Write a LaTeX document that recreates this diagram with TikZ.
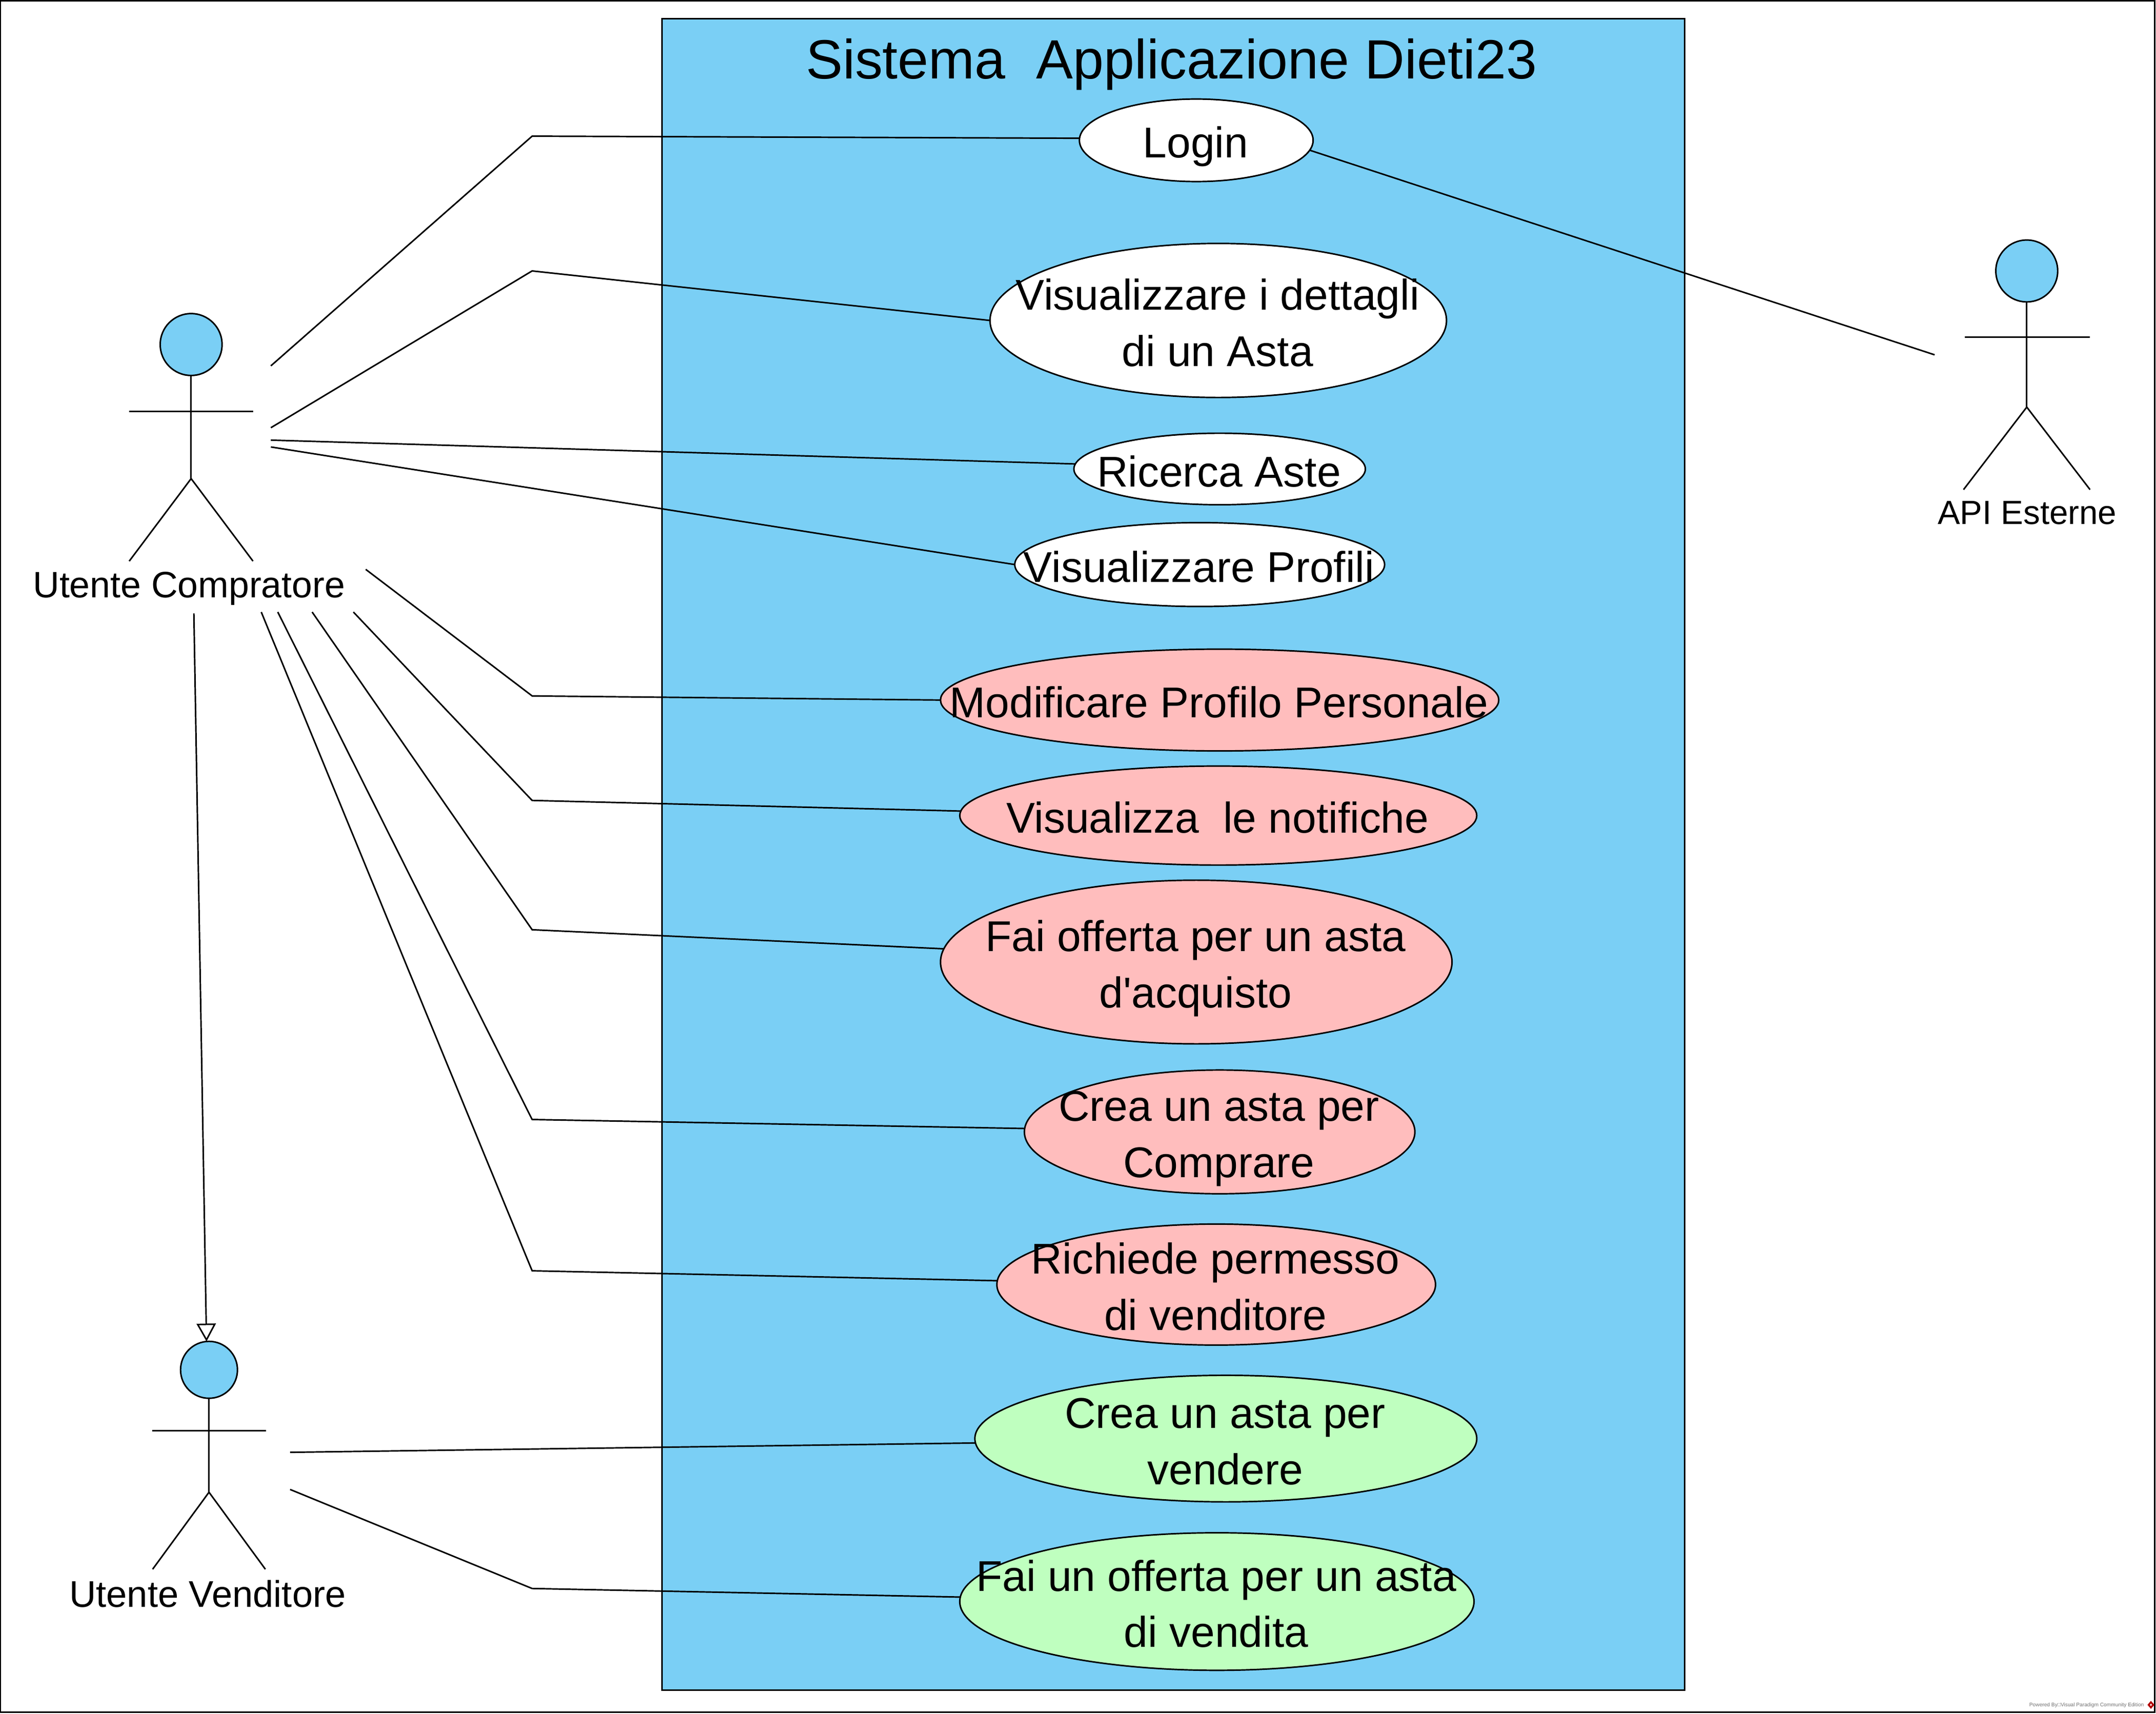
\documentclass[tikz,border=0pt]{standalone}
\usepackage{fontspec}
\setmainfont{Liberation Sans}
\usetikzlibrary{arrows.meta,
                positioning,
                shapes.geometric}
\definecolor{sysblue}{HTML}{7ACFF5}
\definecolor{casepink}{HTML}{FFBDBD}
\definecolor{casegreen}{HTML}{BFFFBF}
% text may stick out of its ellipse, so it takes no room in the node
\newcommand{\casetext}[1]{\kern-1pt\makebox[0pt]{\smash{\raisebox{-10.8pt}{\begin{tabular}[c]{@{}c@{}}#1\end{tabular}}}}}
\tikzset{
	linea/.style={line width=1.1pt, black},
	usecase/.style n args={3}{ellipse, draw, line width=1.1pt, fill=#3, inner sep=0pt, outer sep=0pt,
		minimum width=#1pt, minimum height=#2pt, font=\fontsize{31.3}{41}\selectfont},
	testa/.style={circle, draw, line width=1.1pt, fill=sysblue, inner sep=0pt, outer sep=0pt, minimum size=#1pt},
	attore/.style={font=\fontsize{#1}{32}\selectfont}
}
\begin{document}
\begin{tikzpicture}[x=1pt, y=-1pt]
	\useasboundingbox (0,0) rectangle (1568,1245.9);
	\node [draw, line width=1.1pt, anchor=north west, inner sep=0pt, outer sep=0pt,
		minimum width=1566.9pt, minimum height=1244.3pt] (cornice) at (0.3,0.7) {};
	\node [draw, line width=1.1pt, fill=sysblue, anchor=north west, inner sep=0pt, outer sep=0pt,
		minimum width=744pt, minimum height=1215.5pt] (sistema) at (481.3,13.5) {};
	\node [font=\fontsize{40.2}{48}\selectfont] (titolo) at (852,47) {Sistema\ \ Applicazione Dieti23};

	% casi d'uso
	\node [usecase={170}{60}{white}] (login) at (870,102) {\casetext{Login}};
	\node [usecase={332}{112}{white}] (dettagli) at (886,233) {\casetext{Visualizzare i dettagli\\di un Asta}};
	\node [usecase={212}{52}{white}] (ricerca) at (887,341) {\casetext{Ricerca Aste}};
	\node [usecase={269}{61}{white}] (profili) at (872.5,410.5) {\casetext{Visualizzare Profili}};
	\node [usecase={406}{74}{casepink}] (modifica) at (887,509) {\casetext{Modificare Profilo Personale}};
	\node [usecase={376}{72}{casepink}] (notifiche) at (886,593) {\casetext{Visualizza\ \ le notifiche}};
	\node [usecase={372}{119}{casepink}] (offerta) at (870,699.5) {\casetext{Fai offerta per un asta\\d\textquotesingle acquisto}};
	\node [usecase={284}{90}{casepink}] (comprare) at (887,823) {\casetext{Crea un asta per\\Comprare}};
	\node [usecase={319}{88}{casepink}] (permesso) at (884.5,934) {\casetext{Richiede permesso\\di venditore}};
	\node [usecase={365}{92}{casegreen}] (vendere) at (891.5,1046) {\casetext{Crea un asta per\\vendere}};
	\node [usecase={374}{100}{casegreen}] (vendita) at (885,1164.5) {\casetext{Fai un offerta per un asta\\di vendita}};

	% attori
	\node [testa=45] (testacomp) at (139,250.5) {};
	\coordinate (anca) at (139,348);
	\draw [linea] (testacomp.south) -- (anca);
	\draw [linea] (94,299) -- (184,299);
	\draw [linea] (94,408) -- (anca) -- (184,408);
	\node [attore=26.7] (compratore) at (137.5,428) {Utente Compratore};

	\node [testa=41.4] (testavend) at (152,996) {};
	\coordinate (ancav) at (152,1085);
	\draw [linea] (testavend.south) -- (ancav);
	\draw [linea] (110.7,1040.4) -- (193.5,1040.4);
	\draw [linea] (111,1141) -- (ancav) -- (193,1141);
	\node [attore=27] (venditore) at (151,1159) {Utente Venditore};

	\node [testa=45] (testaapi) at (1474,197) {};
	\coordinate (ancaa) at (1474,296);
	\draw [linea] (testaapi.south) -- (ancaa);
	\draw [linea] (1429,245) -- (1520,245);
	\draw [linea] (1428,356) -- (ancaa) -- (1520,356);
	\node [attore=24.4] (api) at (1474.3,373) {API Esterne};

	% estremi liberi dei collegamenti
	\foreach \nome/\punto in {c1/{197,266}, c2/{197,311}, c3/{197,320}, c4/{197,325}, c5/{266,414},
		c6/{257,445}, c7/{227,445}, c8/{202,445}, c9/{190,445}, c0/{141,446},
		v1/{211,1056}, v2/{211,1083}, a1/{1407,258}}
		\coordinate (\nome) at (\punto);

	\draw [linea] (c1) -- (387,99) -- (login.179);
	\draw [linea] (c2) -- (387,197) -- (dettagli.west);
	\draw [linea] (c3) -- (ricerca.178);
	\draw [linea] (c4) -- (profili.west);
	\draw [linea] (c5) -- (387,506) -- (modifica.west);
	\draw [linea] (c6) -- (387,582) -- (notifiche.179);
	\draw [linea] (c7) -- (387,676) -- (offerta.177);
	\draw [linea] (c8) -- (387,814) -- (comprare.179);
	\draw [linea] (c9) -- (387,924) -- (permesso.179);
	\draw [linea] (v1) -- (vendere.181);
	\draw [linea] (v2) -- (387,1155) -- (vendita.179);
	\draw [linea] (login.-5) -- (a1);
	\draw [linea, -{Triangle[open, fill=white, length=13pt, width=14pt]}] (c0) -- (testavend.95);

	% scritta in basso
	\node [anchor=east, text=black!55, font=\fontsize{3.8}{4}\selectfont, inner sep=0pt] (powered) at (1559.4,1239.8) {Powered By□Visual Paradigm Community Edition};
	\node [diamond, fill=red!70!black, inner sep=0pt, minimum width=5.2pt, minimum height=6pt] (logovp) at (1564.3,1239.6) {};
	\node [diamond, fill=white, inner sep=0pt, minimum width=1.6pt, minimum height=2pt] (logointerno) at (logovp) {};
\end{tikzpicture}
\end{document}
